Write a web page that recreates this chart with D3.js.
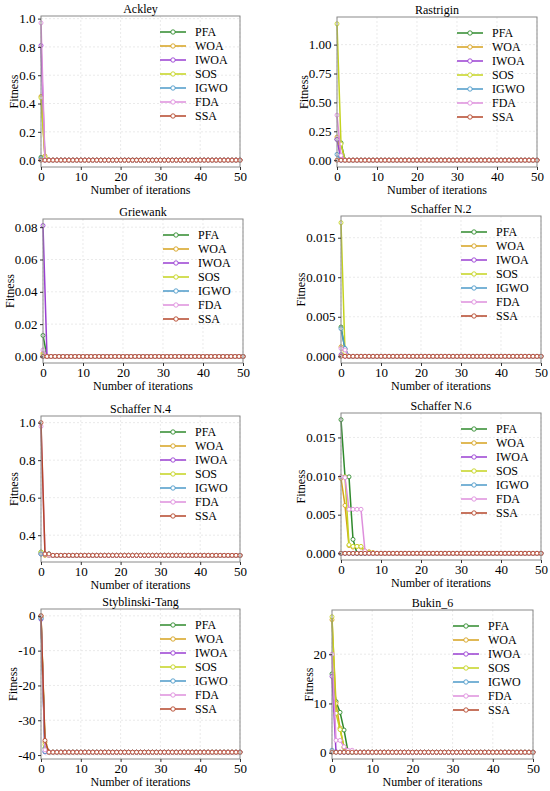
<!DOCTYPE html>
<html>
<head>
<meta charset="utf-8">
<script src="https://cdn.jsdelivr.net/npm/d3@7"></script>
<style>
  body { margin: 0; background: #fff; }
  svg text { font-family: 'Liberation Serif', 'Times New Roman', serif; fill: #000; }
</style>
</head>
<body>
<div id="chart-container"></div>
<script>
// Algorithms shown in every panel (legend order, drawing order)
const algorithms = ["PFA", "WOA", "IWOA", "SOS", "IGWO", "FDA", "SSA"];
const algoColors = ["#2f8a2c", "#d6a21e", "#9a3fd2", "#c4d31f", "#4c9ac8", "#de8fdc", "#b4462a"];

const iterations = d3.range(0, 51);
const xTicks = [0, 10, 20, 30, 40, 50];

const ackleyHead = [[0.02, 0.0], [0.45, 0.03], [0.81, 0.0], [0.44, 0.02], [0.01], [0.97, 0.0], [0.0]];
const ackleyFinal = [0, 0, 0, 0, 0, 0, 0];
const ackleyTicks = [0, 0.2, 0.4, 0.6, 0.8, 1.0];

const rastriginHead = [[0.18, 0.15, 0.0], [0.20, 0.02], [0.18, 0.0], [1.18, 0.14, 0.0], [0.05], [0.39, 0.04], [0.0]];
const rastriginFinal = [0, 0, 0, 0, 0, 0, 0];
const rastriginTicks = [0, 0.25, 0.5, 0.75, 1.0];

const griewankHead = [[0.013, 0.0], [0.002], [0.081, 0.0], [0.001], [0.0], [0.004], [0.0]];
const griewankFinal = [0, 0, 0, 0, 0, 0, 0];
const griewankTicks = [0, 0.02, 0.04, 0.06, 0.08];

const schaffer2Head = [[0.0037, 0.0009, 0.0], [0.0012, 0.0004], [0.0002], [0.0169, 0.0005], [0.0035, 0.001], [0.001, 0.0008], [0.0]];
const schaffer2Final = [0, 0, 0, 0, 0, 0, 0];
const schaffer2Ticks = [0, 0.005, 0.010, 0.015];

const schaffer4Head = [[0.31, 0.30, 0.30], [0.30], [0.30, 0.30], [0.31, 0.30], [0.30, 0.30, 0.30], [0.98, 0.30], [1.0, 0.30, 0.30]];
const schaffer4Final = [0.2925, 0.2925, 0.2925, 0.2925, 0.2925, 0.2925, 0.2925];
const schaffer4Ticks = [0.4, 0.6, 0.8, 1.0];

const schaffer6Head = [
  [0.0173, 0.0099, 0.0099, 0.0018, 0.0],
  [0.0097, 0.0062, 0.0010, 0.0008, 0.0009, 0.0008, 0.0003, 0.0002, 0.0001],
  [0.0],
  [0.0099, 0.0099, 0.0011, 0.0009, 0.0009, 0.0009, 0.0002, 0.0001],
  [0.0],
  [0.0099, 0.0098, 0.0057, 0.0057, 0.0057, 0.0057, 0.0003],
  [0.0]
];
const schaffer6Final = [0, 0, 0, 0, 0, 0, 0];
const schaffer6Ticks = [0, 0.005, 0.010, 0.015];

const styblinskiHead = [[-0.5, -38.0], [0.0, -36.3], [-1.0, -39.1], [0.0, -37.0], [-0.8, -39.0], [0.0, -38.5], [0.0, -35.8]];
const styblinskiFinal = [-39.17, -39.17, -39.17, -39.17, -39.17, -39.17, -39.17];
const styblinskiTicks = [-40, -30, -20, -10, 0];

const bukinHead = [
  [16.0, 10.4, 8.2, 4.6],
  [27.0, 10.0, 5.0, 1.0, 0.3],
  [15.5, 0.2],
  [27.6, 8.0, 4.7, 1.2, 0.3],
  [0.5],
  [20.0, 2.5, 2.5, 1.2, 0.5, 0.5],
  [0.1]
];
const bukinFinal = [0.1, 0.1, 0.1, 0.1, 0.1, 0.1, 0.1];
const bukinTicks = [0, 10, 20];

const plain = d => String(d);
const serif = "'Liberation Serif', 'Times New Roman', serif";

// Panel table: plot rectangle [left, top, right, bottom] in page pixels
const panels = [
  { title: "Ackley", head: ackleyHead, final: ackleyFinal, ticks: ackleyTicks, fmt: d3.format(".1f"), rect: [41, 16, 240, 167] },
  { title: "Rastrigin", head: rastriginHead, final: rastriginFinal, ticks: rastriginTicks, fmt: d3.format(".2f"), rect: [337, 17, 537, 167] },
  { title: "Griewank", head: griewankHead, final: griewankFinal, ticks: griewankTicks, fmt: d3.format(".2f"), rect: [43, 219, 243, 363] },
  { title: "Schaffer N.2", head: schaffer2Head, final: schaffer2Final, ticks: schaffer2Ticks, fmt: d3.format(".3f"), rect: [341, 216, 541, 363] },
  { title: "Schaffer N.4", head: schaffer4Head, final: schaffer4Final, ticks: schaffer4Ticks, fmt: d3.format(".1f"), rect: [41, 416, 240, 562] },
  { title: "Schaffer N.6", head: schaffer6Head, final: schaffer6Final, ticks: schaffer6Ticks, fmt: d3.format(".3f"), rect: [341, 413, 541, 560] },
  { title: "Styblinski-Tang", head: styblinskiHead, final: styblinskiFinal, ticks: styblinskiTicks, fmt: plain, rect: [41, 609, 240, 759] },
  { title: "Bukin_6", head: bukinHead, final: bukinFinal, ticks: bukinTicks, fmt: plain, rect: [332, 610, 533, 759] }
];

var svg = d3.select("#chart-container")
    .append("svg")
    .attr("width", 550)
    .attr("height", 791)
    .attr("font-family", serif);

panels.forEach(function (p) {
    var [left, top, right, bottom] = p.rect;
    var w = right - left;
    var h = bottom - top;

    // build the full 0..50 series
    var series = p.head.map(function (head, k) {
        return iterations.map(i => ({ it: i, val: i < head.length ? head[i] : p.final[k] }));
    });

    var allVals = series.flat().map(d => d.val);
    var lo = d3.min(allVals), hi = d3.max(allVals);
    var pad = (hi - lo) * 0.05;

    var x = d3.scaleLinear().domain([0, 50]).range([0, w]);
    var y = d3.scaleLinear().domain([lo - pad, hi + pad]).range([h, 0]);

    var g = svg.append("g").attr("transform", `translate(${left}, ${top})`);

    // gridlines
    g.append("g")
        .selectAll("line")
        .data(xTicks)
        .join("line")
        .attr("x1", d => x(d)).attr("x2", d => x(d))
        .attr("y1", 0).attr("y2", h)
        .attr("stroke", "#dcdcdc")
        .attr("stroke-width", 0.6)
        .attr("stroke-dasharray", "2,2");

    g.append("g")
        .selectAll("line")
        .data(p.ticks)
        .join("line")
        .attr("x1", 0).attr("x2", w)
        .attr("y1", d => y(d)).attr("y2", d => y(d))
        .attr("stroke", "#dcdcdc")
        .attr("stroke-width", 0.6)
        .attr("stroke-dasharray", "2,2");

    // series
    var line = d3.line()
        .x(d => x(d.it))
        .y(d => y(d.val));

    series.forEach(function (s, k) {
        g.append("path")
            .datum(s)
            .attr("fill", "none")
            .attr("stroke", algoColors[k])
            .attr("stroke-width", 1.5)
            .attr("d", line);

        g.append("g")
            .selectAll("circle")
            .data(s)
            .join("circle")
            .attr("cx", d => x(d.it))
            .attr("cy", d => y(d.val))
            .attr("r", 2)
            .attr("fill", "#fff")
            .attr("stroke", algoColors[k])
            .attr("stroke-width", 0.9);
    });

    // frame
    g.append("rect")
        .attr("width", w)
        .attr("height", h)
        .attr("fill", "none")
        .attr("stroke", "#8a8a8a")
        .attr("stroke-width", 1);

    // axes
    var xAxis = g.append("g")
        .attr("transform", `translate(0, ${h})`)
        .call(d3.axisBottom(x).tickValues(xTicks).tickFormat(plain).tickSize(3).tickPadding(2));

    var yAxis = g.append("g")
        .call(d3.axisLeft(y).tickValues(p.ticks).tickFormat(p.fmt).tickSize(3).tickPadding(2.5));

    [xAxis, yAxis].forEach(function (a) {
        a.attr("font-family", serif).attr("font-size", 13);
        a.select(".domain").remove();
        a.selectAll(".tick line").attr("stroke", "#333");
        a.selectAll(".tick text").attr("fill", "#000");
    });

    // labels
    g.append("text")
        .attr("x", w / 2)
        .attr("y", h + 27)
        .attr("text-anchor", "middle")
        .attr("font-family", serif)
        .attr("font-size", 12)
        .text("Number of iterations");

    var yw = yAxis.node().getBBox().width;
    g.append("text")
        .attr("transform", `translate(${-yw - 5}, ${h / 2}) rotate(-90)`)
        .attr("text-anchor", "middle")
        .attr("dy", "0.35em")
        .attr("font-family", serif)
        .attr("font-size", 12)
        .text("Fitness");

    g.append("text")
        .attr("x", w / 2)
        .attr("y", -3)
        .attr("text-anchor", "middle")
        .attr("font-family", serif)
        .attr("font-size", 12)
        .text(p.title);

    // legend
    var legend = g.append("g").attr("transform", `translate(${w - 80}, 16)`);
    algorithms.forEach(function (name, k) {
        var row = legend.append("g").attr("transform", `translate(0, ${k * 14})`);
        row.append("line")
            .attr("x1", 0).attr("x2", 26)
            .attr("stroke", algoColors[k])
            .attr("stroke-width", 1.5);
        row.append("circle")
            .attr("cx", 13)
            .attr("r", 2.2)
            .attr("fill", "#fff")
            .attr("stroke", algoColors[k])
            .attr("stroke-width", 0.9);
        row.append("text")
            .attr("x", 35)
            .attr("dy", "0.35em")
            .attr("font-family", serif)
            .attr("font-size", 12)
            .text(name);
    });
});
</script>
</body>
</html>
